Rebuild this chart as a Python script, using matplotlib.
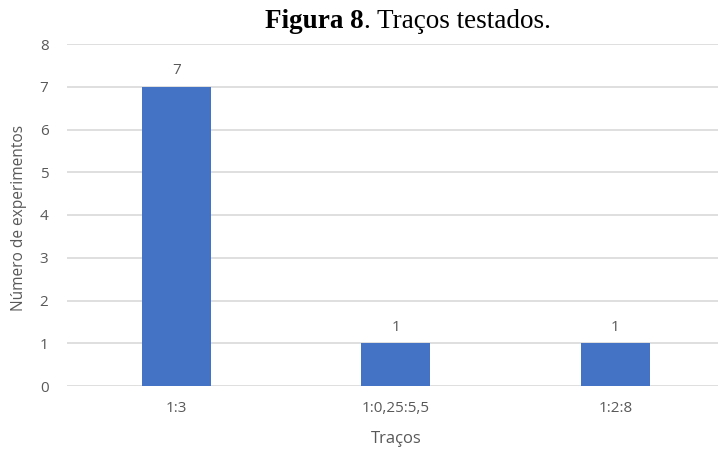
import matplotlib.pyplot as plt
import numpy as np

# counts of experiments per stroke mix
categories = ["1:3", "1:0,25:5,5", "1:2:8"]
counts = [7, 1, 1]
yticks = [0, 1, 2, 3, 4, 5, 6, 7, 8]

BAR_COLOR = "#4472C4"
TEXT_COLOR = "#595959"
GRID_COLOR = "#D9D9D9"

plt.rcParams["font.family"] = ["Open Sans", "DejaVu Sans"]

W, H = 718, 453
fig = plt.figure(figsize=(W / 100, H / 100), dpi=100)

# plot area runs off the right edge of the figure
left, right = 66.5, 725.0
bottom, top = 386.0, 44.0
ax = fig.add_axes([left / W, 1 - bottom / H, (right - left) / W, (bottom - top) / H])

x = np.arange(len(categories))
bars = ax.bar(x, counts, width=0.315, color=BAR_COLOR, zorder=3)

for xi, v in zip(x, counts):
    ax.text(xi, v + 0.2, str(v), ha="center", va="bottom", fontsize=11, color=TEXT_COLOR)

ax.set_xlim(-0.5, len(categories) - 0.5)
ax.set_ylim(0, 8)
ax.set_yticks(yticks)
ax.set_xticks(x)
ax.set_xticklabels(categories)
ax.tick_params(axis="both", length=0, labelsize=11, labelcolor=TEXT_COLOR)
ax.tick_params(axis="y", pad=13)
ax.tick_params(axis="x", pad=11)
ax.yaxis.grid(True, color=GRID_COLOR, linewidth=1.2, zorder=0)
for s in ax.spines.values():
    s.set_visible(False)

fig.text(19 / W, 1 - 218 / H, "Número de experimentos", rotation=90,
         ha="center", va="center", fontsize=11.2, color=TEXT_COLOR)
fig.text(396 / W, 1 - 439 / H, "Traços", ha="center", va="center",
         fontsize=12, color=TEXT_COLOR)

# title: bold "Figura 8" followed by regular text
serif = ["Liberation Serif", "DejaVu Serif"]
t1 = fig.text(265 / W, 1 - 21 / H, "Figura 8", ha="left", va="center",
              fontsize=19.5, fontweight="bold", family=serif, color="black")
fig.canvas.draw()
bb = t1.get_window_extent()
fig.text(bb.x1 / W, 1 - 21 / H, ". Traços testados.", ha="left", va="center",
         fontsize=19.5, family=serif, color="black")

fig.savefig("out.png", dpi=100)
